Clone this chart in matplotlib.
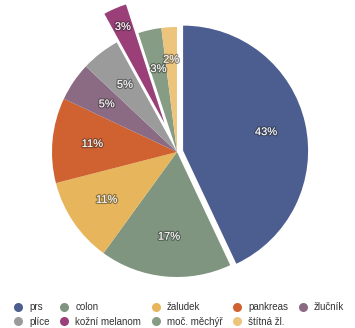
import numpy as np
import matplotlib
matplotlib.use("Agg")
import matplotlib.pyplot as plt
import matplotlib.patheffects as pe
from matplotlib.lines import Line2D

categories = ["prs", "colon", "žaludek", "pankreas", "žlučník", "plíce",
              "kožní melanom", "moč. měchýř", "štítná žl."]
values = [43, 17, 11, 11, 5, 5, 3, 3, 2]
colors = ["#4c5d8f", "#7f9580", "#e6b55c", "#cf6230", "#8b6b83", "#9b9b9b",
          "#9a3f78", "#879c84", "#ecc47c"]
explode = [0.05, 0, 0, 0, 0, 0, 0.25, 0, 0]

plt.rcParams['font.family'] = ['Liberation Sans', 'DejaVu Sans']

fig = plt.figure(figsize=(3.55, 3.28), dpi=100)
ax = fig.add_axes([0, 0, 1, 1])
R = 125.0
wedges, texts, autotexts = ax.pie(
    values, colors=colors, explode=explode, startangle=90, counterclock=False,
    autopct=lambda p: f"{p:.0f}%", pctdistance=0.68, radius=1.0,
    wedgeprops=dict(linewidth=0),
    textprops=dict(color="white", fontsize=8))
for t in autotexts:
    t.set_path_effects([pe.withStroke(linewidth=1.8, foreground=(0.15, 0.15, 0.15, 0.45))])

# push labels of the exploded / thin slices further out
for name, dist in (("kožní melanom", 0.84), ("štítná žl.", 0.74)):
    i = categories.index(name)
    w = wedges[i]
    ang = np.deg2rad((w.theta1 + w.theta2) / 2)
    cx, cy = w.center
    autotexts[i].set_position((cx + dist * np.cos(ang), cy + dist * np.sin(ang)))

W, H = 355.0, 328.0
px, py = 177.0, 152.0
ax.set_xlim(-px / R, (W - px) / R)
ax.set_ylim(-(H - py) / R, py / R)
ax.set_aspect('auto')
ax.axis('off')

order = [0, 5, 1, 6, 2, 7, 3, 8, 4]
handles = [Line2D([], [], marker='o', linestyle='none', markersize=6.5,
                  markerfacecolor=colors[k], markeredgecolor='none') for k in order]
labels = [categories[k] for k in order]
fig.legend(handles, labels, loc='lower left', bbox_to_anchor=(11 / W, -1.5 / H),
           ncol=5, frameon=False, fontsize=7, handletextpad=0.75,
           columnspacing=1.1, labelspacing=0.42, handlelength=0.8,
           borderpad=0.3, borderaxespad=0.0,
           labelcolor="#333333")

fig.savefig("out.png", dpi=100)
